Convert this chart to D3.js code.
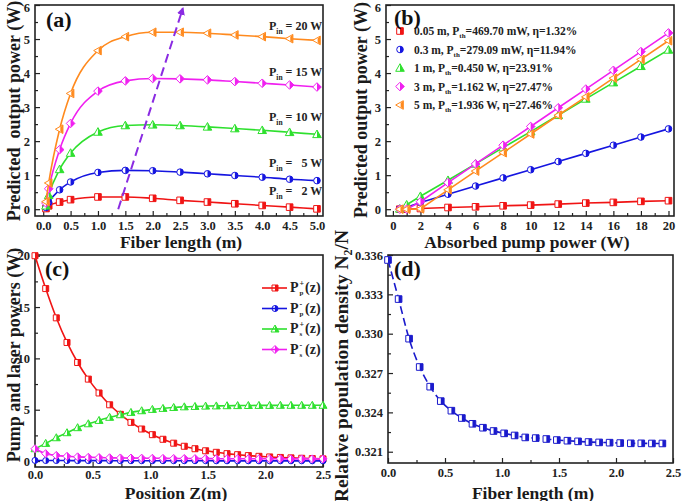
<!DOCTYPE html>
<html>
<head>
<meta charset="utf-8">
<title>Fiber laser simulation</title>
<script src="https://cdn.jsdelivr.net/npm/d3@7/dist/d3.min.js"></script>
<style>
body { margin: 0; background: #fff; }
svg { font-family: "Liberation Serif", "Times New Roman", serif; font-weight: bold; }
.axis text { font-size: 12.5px; fill: #222; font-family: "Liberation Serif", serif; font-weight: bold; }
.axis line { stroke: #222; stroke-width: 1.2; }
.axis path { display: none; }
.title { font-size: 18px; fill: #1a1a1a; text-anchor: middle; }
.plabel { font-size: 22px; fill: #111; }
.leg { font-size: 11.5px; fill: #222; white-space: pre; }
</style>
</head>
<body>
<script>
// (a) output power vs fiber length
var lenX = [0.05, 0.1, 0.3, 0.5, 1.0, 1.5, 2.0, 2.5, 3.0, 3.5, 4.0, 4.5, 5.0];
var pin2 = [0.02, 0.1, 0.21, 0.28, 0.36, 0.36, 0.32, 0.26, 0.21, 0.16, 0.11, 0.06, 0.01];
var pin5 = [0.05, 0.2, 0.57, 0.80, 1.08, 1.14, 1.13, 1.09, 1.04, 0.99, 0.94, 0.88, 0.84];
var pin10 = [0.1, 0.41, 1.17, 1.65, 2.27, 2.46, 2.48, 2.46, 2.42, 2.37, 2.32, 2.26, 2.20];
var pin15 = [0.18, 0.6, 1.75, 2.52, 3.47, 3.77, 3.84, 3.83, 3.80, 3.75, 3.70, 3.65, 3.59];
var pin20 = [0.22, 0.77, 2.35, 3.40, 4.66, 5.07, 5.20, 5.20, 5.17, 5.12, 5.07, 5.01, 4.96];
var pinNames = [" =   2 W", " =   5 W", " = 10 W", " = 15 W", " = 20 W"];
var arrowX = [1.37, 2.55];
var arrowY = [0, 5.9];

// (b) output power vs absorbed pump power
var pumpX = [0.5, 1, 2, 4, 6, 8, 10, 12, 14, 16, 18, 20];
var len005 = [0, 0, 0.02, 0.05, 0.07, 0.10, 0.12, 0.15, 0.18, 0.20, 0.23, 0.25];
var len03 = [0, 0.06, 0.2, 0.44, 0.68, 0.92, 1.16, 1.40, 1.64, 1.88, 2.12, 2.36];
var len1 = [0.01, 0.13, 0.38, 0.85, 1.33, 1.81, 2.28, 2.76, 3.24, 3.72, 4.20, 4.68];
var len3 = [0, 0, 0.22, 0.78, 1.33, 1.88, 2.43, 2.98, 3.53, 4.08, 4.63, 5.18];
var len5 = [0, 0, 0.01, 0.57, 1.12, 1.66, 2.21, 2.76, 3.30, 3.85, 4.40, 4.95];
var lenNames = ["0.05 m", "0.3 m", "1 m", "3 m", "5 m"];
var pthNames = ["=469.70 mW, \u03B7=1.32%", "=279.09 mW, \u03B7=11.94%", "=0.450 W, \u03B7=23.91%",
                "=1.162 W, \u03B7=27.47%", "=1.936 W, \u03B7=27.46%"];

// (c) powers along the fiber
var posZ = [0, 0.093, 0.185, 0.278, 0.370, 0.463, 0.556, 0.648, 0.741, 0.833, 0.926, 1.019, 1.111, 1.204,
            1.296, 1.389, 1.481, 1.574, 1.667, 1.759, 1.852, 1.944, 2.037, 2.130, 2.222, 2.315, 2.407, 2.5];
var ppFwd = [20.0, 16.8, 13.95, 11.55, 9.6, 7.98, 6.63, 5.48, 4.55, 3.77, 3.12, 2.57, 2.12, 1.74,
             1.44, 1.2, 1.0, 0.85, 0.72, 0.62, 0.53, 0.46, 0.4, 0.35, 0.31, 0.27, 0.24, 0.21];
var ppBwd = [0.06, 0.05, 0.05, 0.05, 0.04, 0.04, 0.04, 0.04, 0.03, 0.03, 0.03, 0.03, 0.03, 0.03,
             0.03, 0.03, 0.03, 0.02, 0.02, 0.02, 0.02, 0.02, 0.02, 0.02, 0.02, 0.02, 0.02, 0.02];
var psFwd = [1.2, 1.72, 2.27, 2.76, 3.25, 3.63, 3.96, 4.26, 4.51, 4.74, 4.9, 5.03, 5.13, 5.22,
             5.28, 5.32, 5.35, 5.37, 5.39, 5.40, 5.41, 5.42, 5.42, 5.43, 5.43, 5.43, 5.43, 5.43];
var psBwd = [1.2, 0.72, 0.55, 0.46, 0.41, 0.37, 0.34, 0.32, 0.3, 0.29, 0.28, 0.27, 0.26, 0.25,
             0.25, 0.24, 0.24, 0.23, 0.23, 0.23, 0.22, 0.22, 0.22, 0.22, 0.21, 0.21, 0.21, 0.21];

// (d) relative population density
var fibX = [0, 0.093, 0.185, 0.278, 0.370, 0.463, 0.556, 0.648, 0.741, 0.833, 0.926, 1.019, 1.111, 1.204,
            1.296, 1.389, 1.481, 1.574, 1.667, 1.759, 1.852, 1.944, 2.037, 2.130, 2.222, 2.315, 2.407];
var n2n = [0.33562, 0.33264, 0.32962, 0.32746, 0.32596, 0.32486, 0.32413, 0.32357, 0.32313, 0.32283,
           0.32258, 0.3224, 0.32224, 0.32209, 0.32204, 0.32197, 0.32189, 0.32184, 0.32179, 0.32174,
           0.32171, 0.32169, 0.32166, 0.32164, 0.32164, 0.32163, 0.32163];

var red = "#f01414", blue = "#1515e0", green = "#2ee02e", magenta = "#f020f0", orange = "#ff8a1e";

var svg = d3.select("body").append("svg").attr("width", 685).attr("height", 501);

// axes + frame for one panel
function panel(box, xDom, yDom, xTicks, xMinor, yTicks, yMinor, xFmt, yFmt, pad) {
    var x = d3.scaleLinear().domain(xDom).range([box.l, box.r]);
    var y = d3.scaleLinear().domain(yDom).range([box.b, box.t]);
    svg.append("g").attr("class", "axis").attr("transform", "translate(0," + box.b + ")")
        .call(d3.axisBottom(x).tickValues(xMinor).tickSize(-3).tickFormat(""));
    svg.append("g").attr("class", "axis").attr("transform", "translate(0," + box.b + ")")
        .call(d3.axisBottom(x).tickValues(xTicks).tickSize(-5).tickPadding(pad).tickFormat(xFmt));
    svg.append("g").attr("class", "axis").attr("transform", "translate(" + box.l + ",0)")
        .call(d3.axisLeft(y).tickValues(yMinor).tickSize(-3).tickFormat(""));
    var ya = svg.append("g").attr("class", "axis").attr("transform", "translate(" + box.l + ",0)")
        .call(d3.axisLeft(y).tickValues(yTicks).tickSize(-5).tickPadding(5).tickFormat(yFmt));
    // keep the top label inside the page
    ya.selectAll("text").filter(function(d) { return y(d) < 8; }).attr("dy", "0.5em");
    svg.append("rect").attr("x", box.l).attr("y", box.t)
        .attr("width", box.r - box.l).attr("height", box.b - box.t)
        .attr("fill", "none").attr("stroke", "#222").attr("stroke-width", 1.6);
    return { x: x, y: y };
}

// half-filled Origin style symbols
function marker(g, shape, cx, cy, s, color) {
    var full, half;
    if (shape == "circle") {
        g.append("circle").attr("cx", cx).attr("cy", cy).attr("r", s)
            .attr("fill", "#fff").attr("stroke", color).attr("stroke-width", 1);
        g.append("path").attr("d", "M" + cx + "," + (cy - s) + "A" + s + "," + s + " 0 0 1 " + cx + "," + (cy + s) + "Z")
            .attr("fill", color);
        return;
    }
    if (shape == "square") {
        full = [[cx - s, cy - s], [cx + s, cy - s], [cx + s, cy + s], [cx - s, cy + s]];
        half = [[cx, cy - s], [cx + s, cy - s], [cx + s, cy + s], [cx, cy + s]];
    } else if (shape == "up") {
        full = [[cx, cy - s - 1], [cx + s + 1, cy + s], [cx - s - 1, cy + s]];
        half = [[cx, cy - s - 1], [cx + s + 1, cy + s], [cx, cy + s]];
    } else if (shape == "diamond") {
        full = [[cx, cy - s - 1], [cx + s + 1, cy], [cx, cy + s + 1], [cx - s - 1, cy]];
        half = [[cx, cy - s - 1], [cx + s + 1, cy], [cx, cy + s + 1]];
    } else {
        full = [[cx - s - 1, cy], [cx + s, cy - s - 1], [cx + s, cy + s + 1]];
        half = [[cx + s * 0.2, cy - s * 0.6], [cx + s, cy - s - 1], [cx + s, cy + s + 1], [cx + s * 0.2, cy + s * 0.6]];
    }
    g.append("polygon").attr("points", full.join(" "))
        .attr("fill", "#fff").attr("stroke", color).attr("stroke-width", 1);
    g.append("polygon").attr("points", half.join(" ")).attr("fill", color);
}

function series(p, xs, ys, color, shape, s, curve) {
    var line = d3.line().x(function(d, i) { return p.x(xs[i]); }).y(function(d) { return p.y(d); })
        .curve(curve || d3.curveMonotoneX);
    svg.append("path").attr("d", line(ys)).attr("fill", "none")
        .attr("stroke", color).attr("stroke-width", 1.6);
    var g = svg.append("g");
    ys.forEach(function(d, i) { marker(g, shape, p.x(xs[i]), p.y(d), s, color); });
}

function yTitle(x, y, txt) {
    return svg.append("text").attr("class", "title").style("white-space", "pre")
        .attr("transform", "translate(" + x + "," + y + ") rotate(-90)").text(txt);
}
function xTitle(x, y, txt) {
    svg.append("text").attr("class", "title").attr("x", x).attr("y", y).style("font-size", "17.5px").text(txt);
}

// ---------- (a) ----------
var pa = panel({ l: 35, r: 323, t: 5, b: 216 }, [-0.15, 5.11], [-0.2, 6.0],
    d3.range(0, 5.01, 0.5), d3.range(0.25, 5.1, 0.5), d3.range(0, 6.1, 1), d3.range(0.5, 6, 1),
    d3.format(".1f"), d3.format("d"), 5);
var aData = [pin2, pin5, pin10, pin15, pin20];
var aCol = [red, blue, green, magenta, orange];
var aShape = ["square", "circle", "up", "diamond", "left"];
aData.forEach(function(ys, k) { series(pa, lenX, ys, aCol[k], aShape[k], 3.3); });

svg.append("defs").append("marker").attr("id", "arr").attr("viewBox", "0 0 10 10")
    .attr("refX", 8).attr("refY", 5).attr("markerWidth", 4).attr("markerHeight", 4)
    .attr("orient", "auto").append("path").attr("d", "M0,0L10,5L0,10Z").attr("fill", "#8a2be2");
svg.append("line").attr("x1", pa.x(arrowX[0])).attr("y1", pa.y(arrowY[0]))
    .attr("x2", pa.x(arrowX[1])).attr("y2", pa.y(arrowY[1]))
    .attr("stroke", "#8a2be2").attr("stroke-width", 2).attr("stroke-dasharray", "9,5")
    .attr("marker-end", "url(#arr)");

var pinY = [195, 166.5, 121, 75.5, 29.5];
pinNames.forEach(function(n, k) {
    var t = svg.append("text").attr("class", "leg").attr("x", 269).attr("y", pinY[k]).style("font-size", "12px");
    t.append("tspan").text("P");
    t.append("tspan").attr("dy", 4).style("font-size", "7.5px").text("in");
    t.append("tspan").attr("dy", -4).text(n);
});

svg.append("text").attr("class", "plabel").attr("x", 46).attr("y", 27).text("(a)");
xTitle(181, 248, "Fiber length (m)");
yTitle(20, 111, "Predicted  output power (W)");

// ---------- (b) ----------
var pb = panel({ l: 386, r: 674, t: 5, b: 216 }, [-0.5, 20.4], [-0.2, 6.0],
    d3.range(0, 20.1, 2), d3.range(1, 20, 2), d3.range(0, 6.1, 1), d3.range(0.5, 6, 1),
    d3.format("d"), d3.format("d"), 5);
var bData = [len005, len03, len1, len3, len5];
bData.forEach(function(ys, k) { series(pb, pumpX, ys, aCol[k], aShape[k], 3.3, d3.curveLinear); });

var legY = [35, 53.5, 72, 90.5, 109];
var lg = svg.append("g");
lenNames.forEach(function(n, k) {
    marker(lg, aShape[k], 400, legY[k] - 4, 3.3, aCol[k]);
    var t = svg.append("text").attr("class", "leg").attr("x", 414).attr("y", legY[k]);
    t.append("tspan").text(n + ", P");
    t.append("tspan").attr("dy", 3).style("font-size", "7px").text("th");
    t.append("tspan").attr("dy", -3).text(pthNames[k]);
});

svg.append("text").attr("class", "plabel").attr("x", 394).attr("y", 25).text("(b)");
xTitle(527, 248, "Absorbed pump power (W)");
yTitle(367, 110, "Predicted output power (W)");

// ---------- (c) ----------
var pc = panel({ l: 35, r: 323, t: 255, b: 467 }, [0, 2.5], [-0.58, 20.07],
    d3.range(0, 2.51, 0.5), d3.range(0.25, 2.5, 0.5), d3.range(0, 20.1, 5), d3.range(2.5, 20, 5),
    d3.format(".1f"), d3.format("d"), 3.5);
var cData = [ppFwd, ppBwd, psFwd, psBwd];
var cCol = [red, blue, green, magenta];
var cShape = ["square", "circle", "up", "diamond"];
var cNames = [["p", "+"], ["p", "-"], ["s", "+"], ["s", "-"]];
cData.forEach(function(ys, k) { series(pc, posZ, ys, cCol[k], cShape[k], 3); });

var cLegY = [292, 312.5, 333, 353.5];
cNames.forEach(function(n, k) {
    var yy = cLegY[k];
    svg.append("line").attr("x1", 262).attr("x2", 287).attr("y1", yy - 4).attr("y2", yy - 4)
        .attr("stroke", cCol[k]).attr("stroke-width", 1.6);
    marker(lg, cShape[k], 275, yy - 4, 3, cCol[k]);
    svg.append("text").attr("class", "leg").attr("x", 290).attr("y", yy).style("font-size", "14px").text("P");
    svg.append("text").attr("class", "leg").attr("x", 299.5).attr("y", yy - 6).style("font-size", "8px").text(n[1]);
    svg.append("text").attr("class", "leg").attr("x", 299.5).attr("y", yy + 3).style("font-size", "7px").text(n[0]);
    svg.append("text").attr("class", "leg").attr("x", 305).attr("y", yy).style("font-size", "14px").text("(z)");
});

svg.append("text").attr("class", "plabel").attr("x", 45).attr("y", 276).text("(c)");
xTitle(176, 498.5, "Position Z(m)");
yTitle(20, 355, "Pump and laser powers (W)");

// ---------- (d) ----------
var pd = panel({ l: 388, r: 673, t: 255, b: 463 }, [0, 2.5], [0.32014, 0.336],
    d3.range(0, 2.51, 0.5), d3.range(0.25, 2.5, 0.5), [0.321, 0.324, 0.327, 0.330, 0.333, 0.336],
    [0.3225, 0.3255, 0.3285, 0.3315, 0.3345], d3.format(".1f"), d3.format(".3f"), 5);
var dLine = d3.line().x(function(d, i) { return pd.x(fibX[i]); }).y(function(d) { return pd.y(d); })
    .curve(d3.curveMonotoneX);
svg.append("path").attr("d", dLine(n2n)).attr("fill", "none").attr("stroke", "#1a1acc")
    .attr("stroke-width", 1.6).attr("stroke-dasharray", "8,4");
var dg = svg.append("g");
n2n.forEach(function(d, i) { marker(dg, "square", pd.x(fibX[i]), pd.y(d), 3.3, "#1a1acc"); });

svg.append("text").attr("class", "plabel").attr("x", 394).attr("y", 276).text("(d)");
xTitle(533, 498.5, "Fiber length (m)");
var dt = yTitle(348, 366, "Relative population density N").style("font-size", "19.5px");
dt.append("tspan").attr("dy", 4).style("font-size", "12px").text("2");
dt.append("tspan").attr("dy", -4).text("/N");
</script>
</body>
</html>
